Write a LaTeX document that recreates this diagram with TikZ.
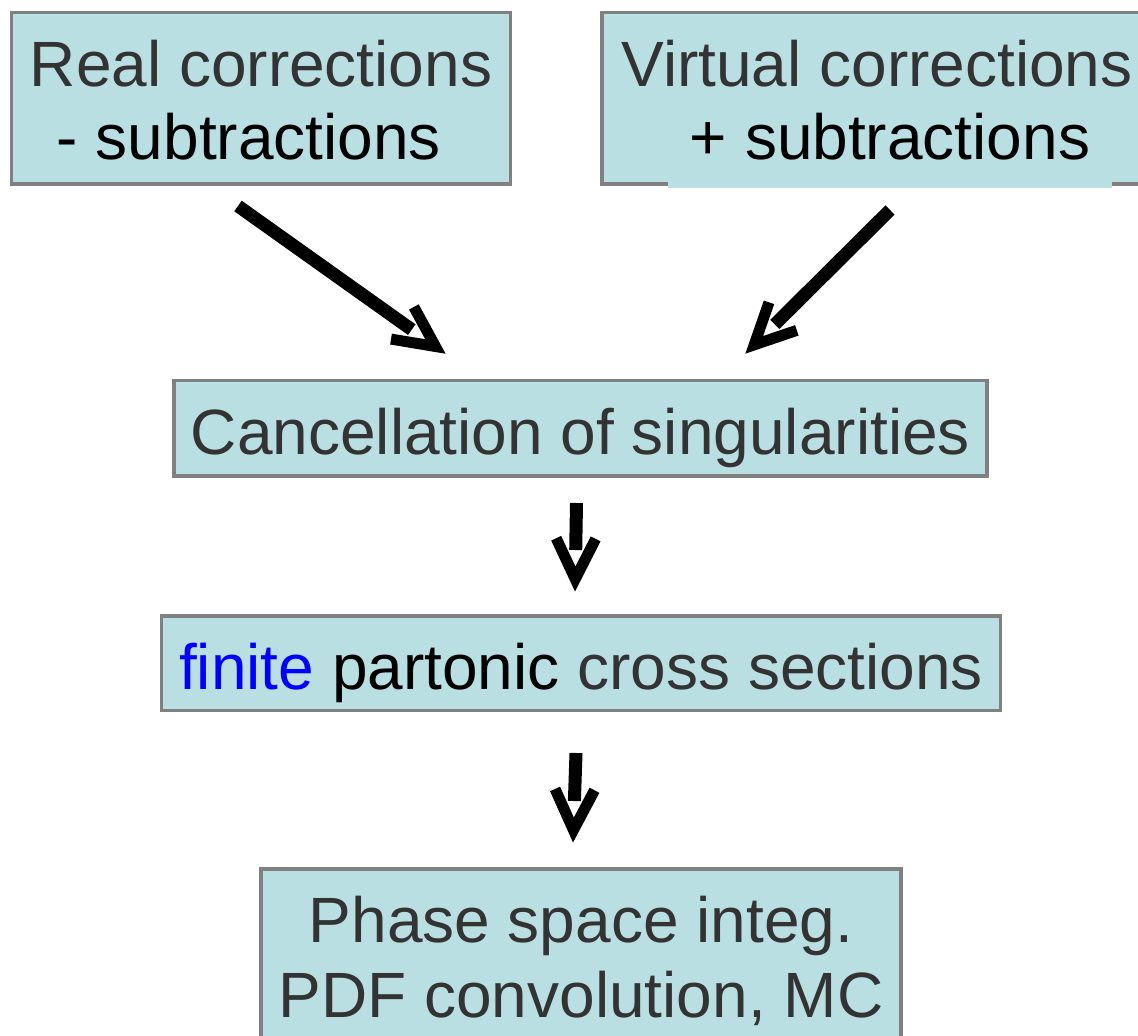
\documentclass[tikz,border=0pt]{standalone}
\usepackage{fontspec}
\setmainfont{Liberation Sans}
\usetikzlibrary{calc}
\definecolor{boxfill}{RGB}{185,223,226}
\definecolor{boxline}{RGB}{128,128,128}
\definecolor{txtgray}{RGB}{51,51,51}
\definecolor{finiteblue}{RGB}{0,0,255}
\tikzset{
  flowbox/.style={draw=boxline, fill=boxfill, line width=3.5pt, rectangle, inner sep=0pt},
  boxtext/.style={anchor=base, inner sep=0pt, font=\fontsize{64}{75}\selectfont, text=txtgray},
  shaftline/.style={line width=13pt, line cap=butt},
  headline/.style={line width=11pt, line cap=butt, line join=miter, miter limit=10},
}
% #1 shaft start, #2 visible tip
\newcommand\openvarrow[2]{%
  \draw[shaftline] (#1) -- ($(#2)!42pt!(#1)$);
  \draw[headline] ($($(#2)!13pt!(#1)$)!45pt!26:(#1)$) -- ($(#2)!13pt!(#1)$) -- ($($(#2)!13pt!(#1)$)!45pt!-26:(#1)$);
}
\begin{document}
\begin{tikzpicture}[x=1pt,y=-1pt]
\useasboundingbox (0,0) rectangle (1138,1036);
\clip (0,0) rectangle (1138,1036);

% boxes
\node[flowbox, minimum width=499.4pt, minimum height=171.7pt] (real) at (261,98.15) {};
\node[flowbox, minimum width=558pt, minimum height=171.7pt] (virt) at (881,98.15) {};
\node[flowbox, minimum width=813pt, minimum height=95.7pt] (canc) at (580.5,428.15) {};
\node[flowbox, minimum width=839pt, minimum height=94.5pt] (fin) at (581,663.25) {};
\node[flowbox, minimum width=640pt, minimum height=191pt] (phase) at (581,964.5) {};

% texts
\node[boxtext] (realA) at (261,86) {Real corrections};
\node[boxtext, text=black] (realB) at (249,159) {- subtractions};
\node[boxtext] (virtA) at (877,86) {Virtual corrections};
\node[boxtext, text=black, fill=boxfill, inner xsep=22pt, text height=50pt, text depth=29pt] (virtB) at (890,159) {+ subtractions};
\node[boxtext] (cancT) at (580.5,454) {Cancellation of singularities};
\node[boxtext] (finT) at (581,689) {\textcolor{finiteblue}{finite} \textcolor{black}{partonic} cross sections};
\node[boxtext] (phaseA) at (581,942) {Phase space integ.};
\node[boxtext] (phaseB) at (581,1017) {PDF convolution, MC};

% arrow coordinates
\coordinate (a1s) at (238,206);
\coordinate (a1t) at (446,354);
\coordinate (a2s) at (890,210);
\coordinate (a2t) at (745,354);
\coordinate (a3s) at (576.5,503);
\coordinate (a3t) at (575,592);
\coordinate (a4s) at (576,753);
\coordinate (a4t) at (573,843);

\openvarrow{a1s}{a1t}
\openvarrow{a2s}{a2t}
\openvarrow{a3s}{a3t}
\openvarrow{a4s}{a4t}
\end{tikzpicture}
\end{document}
